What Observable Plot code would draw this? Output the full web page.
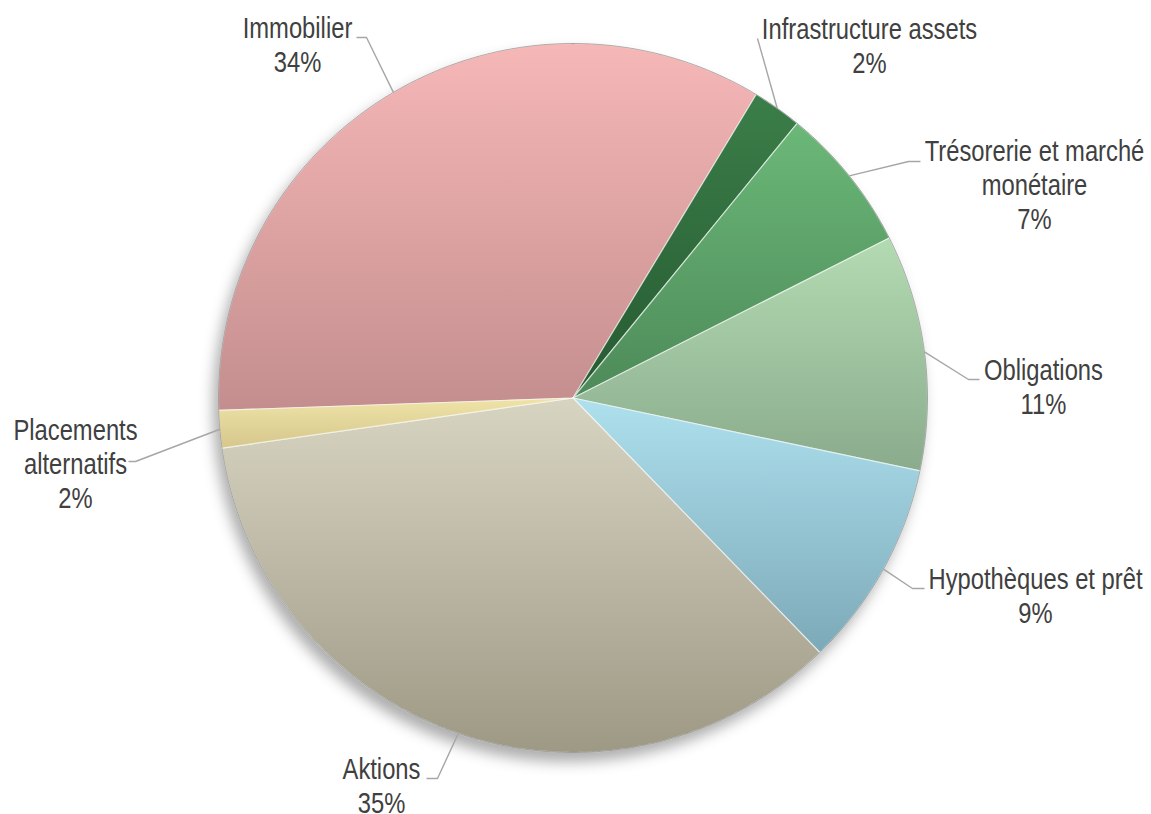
<!DOCTYPE html>
<html><head><meta charset="utf-8">
<script src="https://cdn.jsdelivr.net/npm/d3@7"></script>
<script src="https://cdn.jsdelivr.net/npm/@observablehq/plot@0.6"></script>
<style>
html,body{margin:0;padding:0;background:#fff;}
#chart{width:1151px;height:814px;overflow:hidden;}
</style></head><body><div id="chart"></div>
<script>
// ---- data ----
const categories = ["Immobilier","Infrastructure assets","Trésorerie et marché monétaire","Obligations","Hypothèques et prêt","Aktions","Placements alternatifs"];
const shares = [34.2, 2.25, 6.65, 10.75, 9.45, 35.0, 1.7];
const labelLines = [["Immobilier"],["Infrastructure assets"],["Trésorerie et marché","monétaire"],["Obligations"],["Hypothèques et prêt"],["Aktions"],["Placements","alternatifs"]];

// ---- styles ----
const topColors    = ["#f6b7b7","#3b7e49","#6bb878","#b3dbb2","#aee0ee","#d8d4c2","#efe3a8"];
const bottomColors = ["#c48e8e","#265a31","#4d8a59","#8aab8c","#7ca9b8","#9d9985","#d6c78b"];

// ---- layout ----
const W = 1151, H = 814;
const CX = 572.5, CY = 397.5, R = 354.5;
const START_DEG = 268;
const FONT = "'Liberation Sans', Arial, sans-serif";
const NARROW = 0.82;
const labelLayout = [
  {x: 297, y: 71,  elbow: [366, 37],  end: [356, 37]},
  {x: 869, y: 72,  elbow: [757, 38],  end: [757, 38]},
  {x: 1034, y: 228, elbow: [908, 161], end: [920, 161]},
  {x: 1043, y: 413, elbow: [968, 379], end: [979, 379]},
  {x: 1035, y: 622, elbow: [912, 588], end: [924, 588]},
  {x: 381, y: 812, elbow: [437, 778], end: [426, 778]},
  {x: 75,  y: 507, elbow: [135, 461], end: [128, 461]}
];

const total = d3.sum(shares);
const arcs = d3.pie().sort(null).value(d => d)
  .startAngle(START_DEG * Math.PI / 180)
  .endAngle((START_DEG + 360) * Math.PI / 180)(shares);
const pt = (a, r = R) => [CX + r * Math.sin(a), CY - r * Math.cos(a)];

const slicePts = [];
arcs.forEach((p, i) => {
  const n = Math.max(6, Math.ceil((p.endAngle - p.startAngle) / (Math.PI / 360)));
  slicePts.push({name: categories[i], x: CX, y: CY});
  for (let k = 0; k <= n; k++) {
    const [x, y] = pt(p.startAngle + (p.endAngle - p.startAngle) * k / n);
    slicePts.push({name: categories[i], x, y});
  }
  slicePts.push({name: categories[i], x: CX, y: CY});
});

const rimPts = d3.range(0, 721).map(k => { const [x, y] = pt(k * Math.PI / 360); return {x, y}; });

const leaderPts = [];
arcs.forEach((p, i) => {
  const [x0, y0] = pt((p.startAngle + p.endAngle) / 2);
  const L = labelLayout[i];
  leaderPts.push({name: categories[i], x: x0, y: y0});
  leaderPts.push({name: categories[i], x: L.elbow[0], y: L.elbow[1]});
  leaderPts.push({name: categories[i], x: L.end[0], y: L.end[1]});
});

const labels = categories.map((c, i) => ({
  x: labelLayout[i].x, y: labelLayout[i].y,
  text: labelLines[i].join("\n") + "\n" + Math.round(shares[i] / total * 100) + "%"
}));

const gradIds = categories.map((c, i) => `grad${i}`);

const plot = Plot.plot({
  width: W, height: H, margin: 0,
  x: {domain: [0, W], range: [0, W], axis: null},
  y: {domain: [0, H], range: [0, H], axis: null},
  color: {domain: categories, range: gradIds.map(id => `url(#${id})`)},
  marks: [
    Plot.line(slicePts, {x: "x", y: "y", z: "name", fill: "name", stroke: "#ffffff", strokeOpacity: 0.6, strokeWidth: 1.2}),
    Plot.line(rimPts, {x: "x", y: "y", stroke: "#555555", strokeOpacity: 0.45, strokeWidth: 1}),
    Plot.line(leaderPts, {x: "x", y: "y", z: "name", stroke: "#a6a6a6", strokeWidth: 1.4, strokeLinecap: "butt", strokeLinejoin: "miter"}),
    Plot.text(labels, {x: "x", y: "y", text: "text", lineAnchor: "bottom", lineHeight: 34 / 29, fontSize: 29, fill: "#404040", fontFamily: FONT, textAnchor: "middle"})
  ]
});

const svg = d3.select(plot);
const defs = svg.insert("defs", ":first-child");
categories.forEach((c, i) => {
  const g = defs.append("linearGradient").attr("id", gradIds[i])
    .attr("x1", 0).attr("y1", 0).attr("x2", 0).attr("y2", 1);
  g.append("stop").attr("offset", "0%").attr("stop-color", topColors[i]);
  g.append("stop").attr("offset", "100%").attr("stop-color", bottomColors[i]);
});
const lineGroups = svg.selectAll('g[aria-label="line"]').nodes();
if (lineGroups[0]) d3.select(lineGroups[0]).style("filter", "drop-shadow(-5px 9px 7px rgba(0,0,0,0.32))");
// narrow the label font horizontally (Arial Narrow look)
svg.selectAll('g[aria-label="text"] text').each(function () {
  const t = this.getAttribute("transform") || "";
  this.setAttribute("transform", t + ` scale(${NARROW},1)`);
});

document.getElementById("chart").appendChild(plot);
</script>
</body></html>
